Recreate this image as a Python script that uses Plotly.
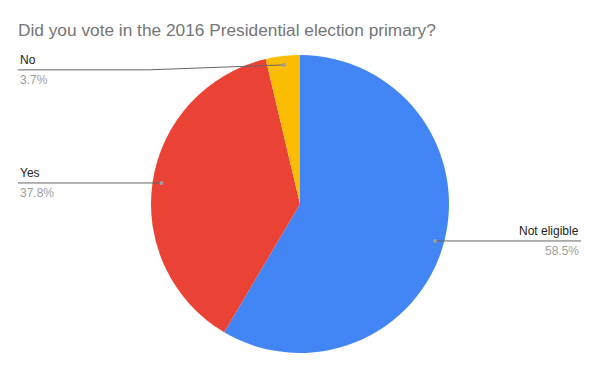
import math
import plotly.graph_objects as go

# Data
labels = ["Not eligible", "Yes", "No"]
values = [58.5, 37.8, 3.7]
colors = ["#4285F4", "#EA4335", "#FBBC04"]
title = "Did you vote in the 2016 Presidential election primary?"

W, H = 600, 371
cx, cy, R = 300, 204, 149

def px(x):
    return x / W

def py(y):
    return 1 - y / H

fig = go.Figure(go.Pie(
    labels=labels, values=values, sort=False, direction="clockwise", rotation=0,
    marker=dict(colors=colors, line=dict(width=0)),
    textinfo="none", hoverinfo="label+percent",
    domain=dict(x=[px(cx - R), px(cx + R)], y=[py(cy + R), py(cy - R)]),
))

shapes = []
annotations = []
total = sum(values)
cum = 0
label_dy = {"No": 5}
for lab, v in zip(labels, values):
    mid = (cum + v / 2) / total * 2 * math.pi
    cum += v
    dx = cx + 0.94 * R * math.sin(mid)
    dy = cy - 0.94 * R * math.cos(mid)
    ly = dy + label_dy.get(lab, 0)
    left = math.sin(mid) < 0
    pct = f"{v / total * 100:.1f}%"
    if left:
        xend = 18
        knee = 148 if abs(ly - dy) > 0.5 else dx
        path = f"M {px(xend)},{py(ly)} L {px(knee)},{py(ly)} L {px(dx)},{py(dy)}"
        anchor = "left"
    else:
        xend = 581
        path = f"M {px(dx)},{py(dy)} L {px(xend)},{py(ly)}"
        anchor = "right"
    shapes.append(dict(type="path", path=path, xref="paper", yref="paper",
                       line=dict(color="#666666", width=1)))
    shapes.append(dict(type="circle", xref="paper", yref="paper",
                       x0=px(dx - 2), x1=px(dx + 2), y0=py(dy + 2), y1=py(dy - 2),
                       fillcolor="#9e9e9e", line=dict(width=0)))
    annotations.append(dict(text=lab, x=px(xend), y=py(ly - 1), xref="paper", yref="paper",
                            xanchor=anchor, yanchor="bottom", showarrow=False,
                            font=dict(size=12, color="#222222", family="Arial, Liberation Sans")))
    annotations.append(dict(text=pct, x=px(xend), y=py(ly + 1), xref="paper", yref="paper",
                            xanchor=anchor, yanchor="top", showarrow=False,
                            font=dict(size=12, color="#9e9e9e", family="Arial, Liberation Sans")))

fig.update_layout(
    width=W, height=H, margin=dict(l=0, r=0, t=0, b=0),
    paper_bgcolor="white", plot_bgcolor="white", showlegend=False,
    title=dict(text=title, x=px(18), xanchor="left", y=py(30), yanchor="middle",
               font=dict(size=17.3, color="#757575", family="Arial, Liberation Sans")),
    shapes=shapes, annotations=annotations,
)

fig.write_html("out.html", config={"displayModeBar": False},
               post_script="document.body.style.margin='0';document.body.style.overflow='hidden';")
